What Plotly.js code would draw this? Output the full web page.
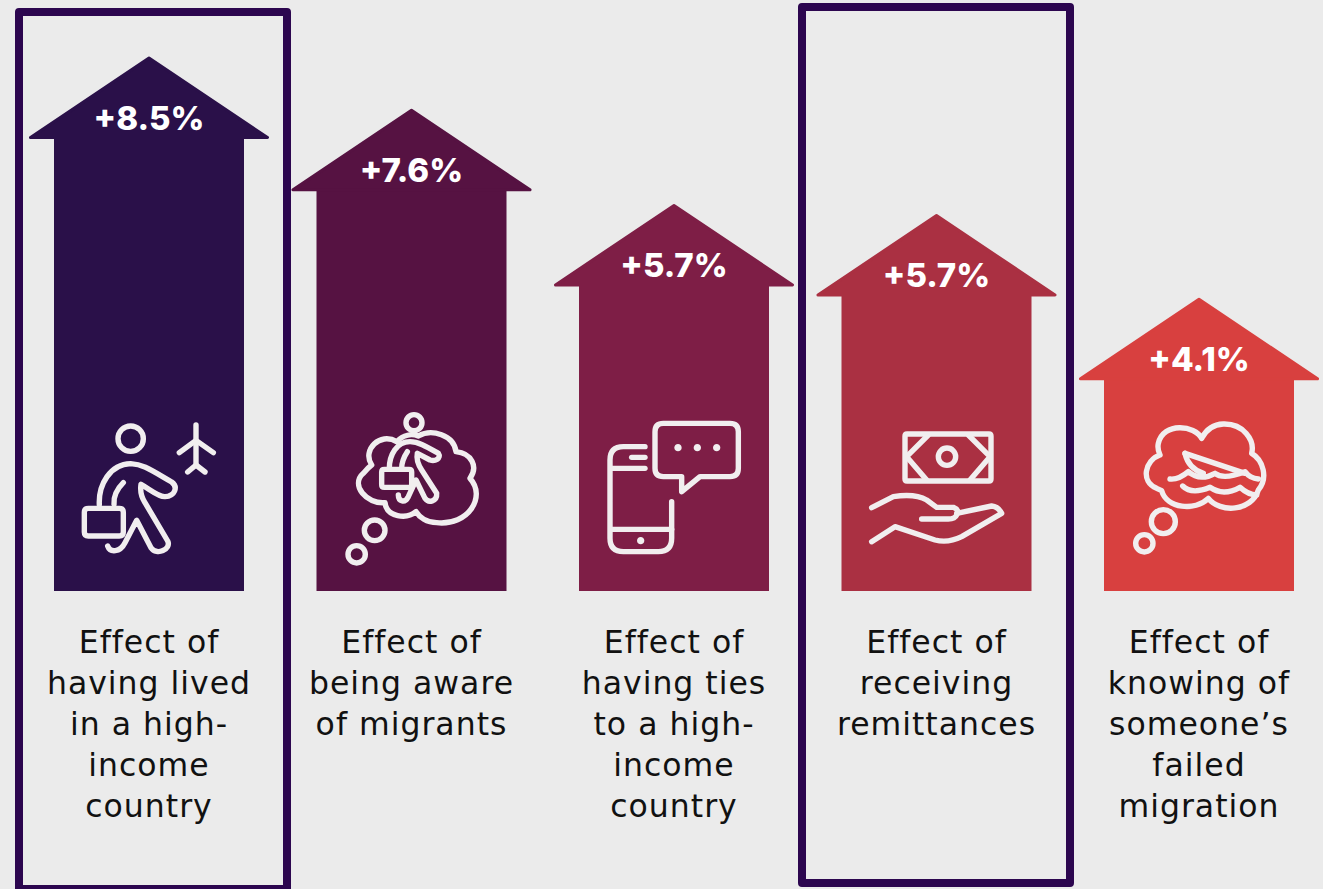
<!DOCTYPE html>
<html><head><meta charset="utf-8">
<script src="https://cdn.plot.ly/plotly-3.0.1.min.js"></script>
<style>html,body{margin:0;padding:0;background:#EBEBEB;overflow:hidden}
.shapelayer path,.scatterlayer .js-line{stroke-linecap:round;stroke-linejoin:round}
.xtick text{letter-spacing:1px}</style>
</head><body><div id="chart" style="width:1323px;height:889px"></div>
<script>
const categories = ["Effect of<br>having lived<br>in a high-<br>income<br>country","Effect of<br>being aware<br>of migrants","Effect of<br>having ties<br>to a high-<br>income<br>country","Effect of<br>receiving<br>remittances","Effect of<br>knowing of<br>someone’s<br>failed<br>migration"];
const effectLabels = ["+8.5%","+7.6%","+5.7%","+5.7%","+4.1%"];
const arrowTips = [8.5,7.67,6.16,6.0,4.67];
const colors = ["#2A1049","#561242","#7E1E46","#AA3042","#D8403F"];
const highlighted = [0,3];

const W=1323,H=889,BASE=591,PX=63,STEP=262.5,C0=149;
const HEAD=82/PX, HALF=118.5/STEP, xs=categories.map((_,i)=>i);
const ICON="#F1EEEF";
const cx=i=>C0+STEP*i;
function circ(x,y,r){const k=r*0.5523;return `M${x-r},${y} C${x-r},${y-k} ${x-k},${y-r} ${x},${y-r} C${x+k},${y-r} ${x+r},${y-k} ${x+r},${y} C${x+r},${y+k} ${x+k},${y+r} ${x},${y+r} C${x-k},${y+r} ${x-r},${y+k} ${x-r},${y} Z`;}
function rrect(a,b,c,d,r){return `M${a+r},${b} L${c-r},${b} Q${c},${b} ${c},${b+r} L${c},${d-r} Q${c},${d} ${c-r},${d} L${a+r},${d} Q${a},${d} ${a},${d-r} L${a},${b+r} Q${a},${b} ${a+r},${b} Z`;}
// icon outlines are traced in 3x crop coordinates, with a crop origin per icon
const icons=[
 {o:[60,401],lines:[circ(212,113,38),"M408,72 L408,190","M358,155 L408,118 L460,155","M383,213 L408,192 L435,213",
  "M118,312 C115,250 150,190 212,188 C250,190 270,205 335,243 C355,258 345,285 315,287 C295,288 270,265 243,250 C240,270 245,290 255,305 L323,420 C335,445 290,465 273,440 L230,358 L195,425 C180,455 150,455 143,435",
  "M190,245 C170,265 160,285 162,310",rrect(73,322,190,405,12)],fill:[]},
 {o:[330,400],lines:[circ(252,68,24),circ(134,391,31),circ(80,463,26),
  "M265,108 C305,85 372,105 378,155 C425,160 445,200 420,235 C470,290 415,378 320,368 C290,368 268,352 258,335 C230,358 170,352 165,308 C110,313 60,255 100,220 C112,205 118,200 125,195 C95,150 150,95 200,125 C220,105 245,100 265,108",
  "M178,205 C178,165 200,125 240,125 C265,125 290,140 325,160 C335,175 315,185 300,180 L262,160 C258,180 265,195 275,210 L320,280 C322,305 295,310 285,295 L258,240 L235,290 C225,310 205,305 205,285",
  "M232,155 C222,170 215,185 215,205",rrect(155,208,245,262,8)],fill:[]},
 {o:[590,410],lines:["M165,110 L100,110 Q60,110 60,150 L60,385 Q60,425 100,425 L205,425 Q245,425 245,385 L245,275","M65,175 L165,175","M125,142 L165,142","M65,358 L245,358",
  "M220,40 L420,40 Q445,40 445,65 L445,175 Q445,200 420,200 L330,200 L275,245 L275,200 L220,200 Q195,200 195,175 L195,65 Q195,40 220,40 Z"],
  fill:[circ(152,392,11),circ(264,113,11),circ(322,113,11),circ(380,113,11)]},
 {o:[855,420],lines:[rrect(150,42,408,183,6),"M220,45 L155,110 L215,180","M340,45 L405,110 L345,180",circ(276,110,26),
  "M50,263 L115,230 Q180,220 215,240 L245,262 L295,262 Q315,270 305,285 Q300,297 280,297 L200,297",
  "M305,280 L410,258 Q430,260 440,280 L320,350 Q280,370 240,360 L120,320 L50,365"],fill:[]},
 {o:[1120,410],lines:[circ(130,335,36),circ(73,400,26),
  "M245,85 C225,45 130,35 115,100 C112,115 115,125 120,135 C75,150 60,215 110,235 L125,242 C140,295 225,305 265,265 C300,310 395,305 415,240 C445,205 430,150 395,130 C405,90 370,40 310,42 C280,43 258,60 245,85",
  "M195,130 L375,190","M195,130 Q205,175 250,190","M150,207 Q175,210 205,185 Q240,215 285,190 Q310,210 375,185 Q390,205 415,207",
  "M188,228 Q215,255 270,232 Q310,260 360,232 Q385,255 410,255"],fill:[]}
];
function localise(path,i,o){ // crop coordinates -> pixel offsets from the arrow's foot
  return path.replace(/(-?[\d.]+),(-?[\d.]+)/g,(m,a,b)=>{
    const dx=o[0]+(+a)/3-cx(i), dy=BASE-(o[1]+(+b)/3);
    return dx.toFixed(2)+","+dy.toFixed(2);
  });
}
const shapes=[];
icons.forEach((ic,i)=>{
  const common={type:"path",xref:"x",yref:"y",xsizemode:"pixel",ysizemode:"pixel",xanchor:i,yanchor:0,layer:"above"};
  ic.lines.forEach(p=>shapes.push({...common,path:localise(p,i,ic.o),line:{color:ICON,width:5.4}}));
  ic.fill.forEach(p=>shapes.push({...common,path:localise(p,i,ic.o),line:{width:0},fillcolor:ICON}));
});
const frames={0:[19,287,12,889],3:[802,1070,7,883]};
highlighted.forEach(i=>{const f=frames[i];shapes.push({type:"rect",xref:"paper",yref:"paper",
  x0:f[0]/W,x1:f[1]/W,y0:(BASE-f[3])/BASE,y1:(BASE-f[2])/BASE,line:{color:"#2C064F",width:8},layer:"below"});});

const traces=[{type:"bar",x:xs,y:arrowTips.map(v=>v-HEAD-1/PX),width:190/STEP,marker:{color:colors,line:{width:0}},hoverinfo:"skip",showlegend:false}];
arrowTips.forEach((v,i)=>traces.push({type:"scatter",mode:"lines",x:[i-HALF,i,i+HALF,i-HALF],y:[v-HEAD,v-2.5/PX,v-HEAD,v-HEAD],
  fill:"toself",fillcolor:colors[i],line:{color:colors[i],width:3},hoverinfo:"skip",showlegend:false}));
traces.push({type:"scatter",mode:"text",x:xs,y:arrowTips.map(v=>v-66/PX),text:effectLabels,textposition:"middle center",
  textfont:{family:"Inter, Roboto, sans-serif",size:33,color:"#FFFFFF",weight:800},hoverinfo:"skip",showlegend:false});

Plotly.newPlot("chart",traces,{
  width:W,height:H,margin:{l:0,r:0,t:0,b:H-BASE,pad:0},paper_bgcolor:"#EBEBEB",plot_bgcolor:"#EBEBEB",showlegend:false,
  xaxis:{range:[-C0/STEP,(W-C0)/STEP],tickmode:"array",tickvals:xs,ticktext:categories,tickangle:0,showgrid:false,zeroline:false,showline:false,
    ticks:"outside",ticklen:23,tickcolor:"rgba(0,0,0,0)",tickfont:{family:"DejaVu Sans, sans-serif",size:31.5,color:"#111111"},automargin:false},
  yaxis:{range:[0,BASE/PX],visible:false,showgrid:false,zeroline:false,automargin:false},
  shapes
},{displayModeBar:false,staticPlot:true});
</script></body></html>
